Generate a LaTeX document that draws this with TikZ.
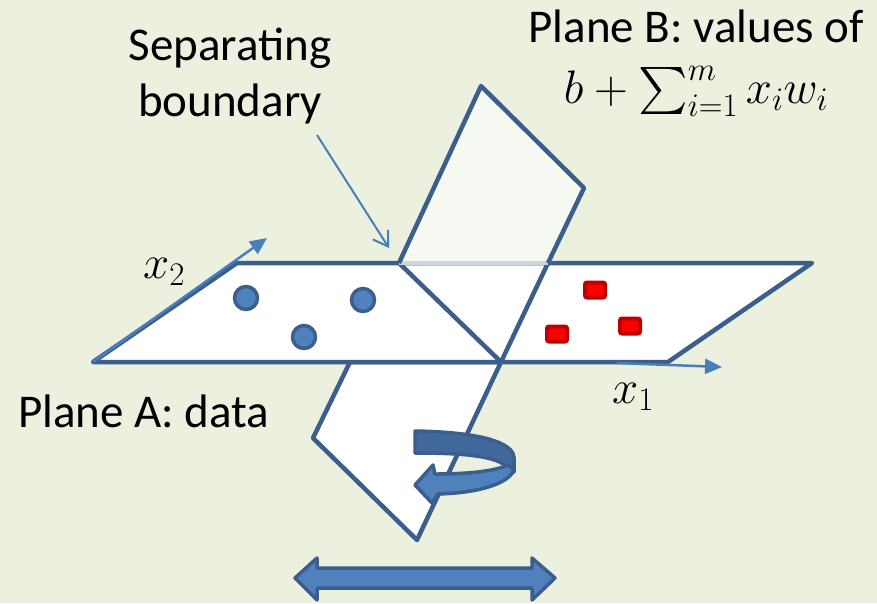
\RequirePackage{fix-cm}
\documentclass[tikz,border=0pt]{standalone}
\usepackage{fontspec}
\setmainfont{Carlito}
\DeclareFontShape{OMX}{cmex}{m}{n}{<-> cmex10}{}
\usetikzlibrary{arrows.meta}
\definecolor{bg}{HTML}{EBF1DE}
\definecolor{edge}{HTML}{3B5E8C}
\definecolor{fillblue}{HTML}{4F81BD}
\definecolor{darkband}{HTML}{41699B}
\definecolor{axis}{HTML}{4A7EBB}
\definecolor{ghost}{HTML}{CDD5E0}
\definecolor{paleplane}{HTML}{F7F9F3}
\definecolor{redfill}{HTML}{FF0000}
\definecolor{redline}{HTML}{C00000}
\begin{document}
\begin{tikzpicture}[x=1pt,y=-1pt,
  planeedge/.style={draw=edge, line width=4.5pt, line join=round},
  lbl/.style={font=\fontsize{47}{56}\selectfont, inner sep=0pt, text=black},
  axisarrow/.style={draw=axis, line width=2.5pt, -{Triangle[length=17pt,width=15pt]}},
  separrow/.style={draw=axis, line width=2pt, -{Straight Barb[length=14pt,width=18pt]}},
  dot/.style={circle, fill=fillblue, draw=edge, line width=3.5pt, minimum size=23pt, inner sep=0pt},
  sq/.style={rectangle, rounded corners=2pt, fill=redfill, draw=redline, line width=4pt, minimum width=20pt, minimum height=15pt, inner sep=0pt},
  blockarrow/.style={draw=edge, line width=3.5pt, line join=round}]

\fill[bg] (0,0) rectangle (877,603);
\useasboundingbox (0,0) rectangle (877,603);

% plane A corners
\coordinate (A1) at (93,362);
\coordinate (A2) at (237,263);
\coordinate (A3) at (812,263);
\coordinate (A4) at (668,362);
% plane B
\coordinate (B1) at (399,263);
\coordinate (B2) at (481,86);
\coordinate (B3) at (584,188);
\coordinate (B4) at (548,263);
\coordinate (C)  at (501,362);
\coordinate (L1) at (350,362);
\coordinate (L2) at (313,438);
\coordinate (L3) at (417,540);

% lower part of plane B
\path[planeedge, fill=white] (L1) -- (L2) -- (L3) -- (C) -- cycle;
% plane A
\path[planeedge, fill=white] (A1) -- (A2) -- (A3) -- (A4) -- cycle;
\draw[planeedge] (B1) -- (C) -- (B4);
% upper part of plane B
\fill[paleplane] (B1) -- (B2) -- (B3) -- (B4) -- cycle;
\draw[ghost, line width=4.5pt] (B1) -- (B4);
\draw[planeedge] (B4) -- (B3) -- (B2) -- (B1);

% data points
\node[dot] (d1) at (246,298) {};
\node[dot] (d2) at (363,300) {};
\node[dot] (d3) at (304,337) {};
\node[sq] (r1) at (595,290) {};
\node[sq] (r2) at (557,334) {};
\node[sq] (r3) at (630,326) {};

% axes
\coordinate (x2tip) at (267,238);
\coordinate (x1start) at (617,363);
\coordinate (x1tip) at (722,367);
\draw[axisarrow] (A1) -- (x2tip);
\draw[axisarrow] (x1start) -- (x1tip);

% separating boundary pointer
\coordinate (septail) at (317,135);
\coordinate (septip) at (389,248);
\draw[separrow] (septail) -- (septip);

% labels
\node[lbl, anchor=base] (sep1) at (230,60) {Separating};
\node[lbl, anchor=base] (sep2) at (230,116) {boundary};
\node[lbl, anchor=base] (titleB) at (696,42) {Plane B: values of};
\node[lbl, anchor=base] (formula) at (696,103) {$b+\sum_{i=1}^{m} x_i w_i$};
\node[lbl, anchor=base west] (titleA) at (18,427) {Plane A: data};
\node[lbl, anchor=base west] (lx2) at (143,278) {$x_2$};
\node[lbl, anchor=base west] (lx1) at (612,403) {$x_1$};

% rotation arrow
\path[blockarrow, fill=darkband] (415,431) .. controls (478,432) and (514,442) .. (514,458) -- (514,472) -- (506,466) .. controls (495,457) and (470,453) .. (415,453) -- cycle;
\path[blockarrow, fill=fillblue] (508,465) .. controls (495,471) and (470,474) .. (435,474) -- (433,465) -- (415,485) -- (432,503) -- (438,494) .. controls (478,493) and (508,484) .. (514,470) -- cycle;

% double arrow
\path[blockarrow, fill=fillblue] (295,578) -- (317,558) -- (317,568) -- (532,568) -- (532,558) -- (555,578) -- (532,600) -- (532,588) -- (317,588) -- (317,600) -- cycle;
\end{tikzpicture}
\end{document}
